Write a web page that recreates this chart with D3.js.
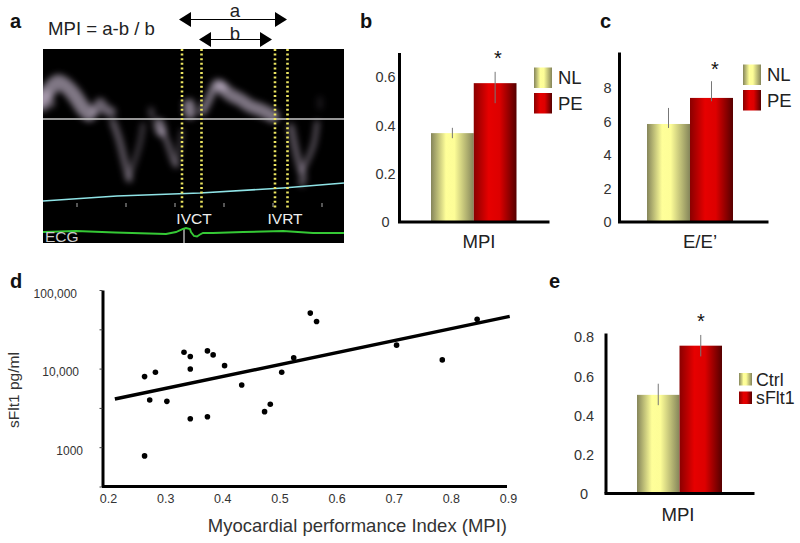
<!DOCTYPE html>
<html><head><meta charset="utf-8">
<script src="https://cdn.jsdelivr.net/npm/d3@7"></script>
<style>
html,body{margin:0;padding:0;background:#fff}
svg{display:block}
text{font-family:"Liberation Sans",Arial,sans-serif;fill:#222}
</style></head><body><svg id="c" width="800" height="543"></svg>
<script>
// ---- bar data
const bCategories = ["NL","PE"];
const bValues = [0.366,0.573];
const bErrLow = [0.345,0.49];
const bErrHigh = [0.388,0.62];
const bTicks = [0,0.2,0.4,0.6];

const cCategories = ["NL","PE"];
const cValues = [5.84,7.4];
const cErrLow = [5.6,7.2];
const cErrHigh = [6.8,8.4];
const cTicks = [0,2,4,6,8];

const eCategories = ["Ctrl","sFlt1"];
const eValues = [0.503,0.755];
const eErrLow = [0.45,0.70];
const eErrHigh = [0.56,0.81];
const eTicks = [0,0.2,0.4,0.6,0.8];

// ---- scatter data
const scatterMPI = [0.264,0.283,0.273,0.303,0.264,0.333,0.344,0.344,0.344,0.374,0.374,0.384,0.404,0.434,0.474,0.484,0.504,0.525,0.554,0.565,0.705,0.785,0.846];
const scatterSFlt1 = [7910,8980,3980,3830,774,16170,14230,9900,2300,16800,2440,14930,10900,6180,2830,3510,8980,13690,50800,39800,19860,12900,42300];
const trendMPI = [0.212,0.903];
const trendSFlt1 = [4100,46100];
const dXTicks = [0.2,0.3,0.4,0.5,0.6,0.7,0.8,0.9];
const dYLabelled = [100000,10000,1000];
const dYLabels = ["100,000","10,000","1000"];
const dYMarks = [100000,31600,10000,3160,1000,316];

// ---- doppler trace, [time, velocity]
const dopplerWaves = [
  {w:15,o:.6,p:[[-4,18],[7,30],[15,37],[24,32],[32,23],[40,11],[46,5]]},
  {w:10,o:.45,p:[[0,12],[3,24],[7,16]]},
  {w:10,o:.5,p:[[53,9],[57,16],[62,10],[68,7]]},
  {w:7,o:.42,p:[[70,-3],[76,-20],[82,-44],[86,-60]]},
  {w:5,o:.3,p:[[100,-6],[97,-24],[91,-44],[86,-58]]},
  {w:6,o:.3,p:[[108,9],[109,3]]},
  {w:11,o:.55,p:[[116,-5],[118,-12]]},
  {w:6,o:.42,p:[[119,-12],[125,-25],[130,-40],[133,-46]]},
  {w:4,o:.3,p:[[139,-12],[136,-30],[133,-44]]},
  {w:12,o:.6,p:[[146,14],[147,6]]},
  {w:8,o:.55,p:[[160,8],[166,20],[174,36],[180,32]]},
  {w:13,o:.58,p:[[178,32],[188,24],[198,19],[207,13],[218,9],[230,3]]},
  {w:7,o:.42,p:[[248,-8],[252,-28],[256,-44],[260,-58],[259,-64]]},
  {w:5,o:.42,p:[[274,-4],[271,-24],[265,-40],[259,-52]]},
  {w:5,o:.14,p:[[277,12],[277,20]]}
];
const dopplerCyan = [[0,-82],[74,-77],[157,-74],[240,-69],[301,-64]];
const dopplerEcg = [[0,-113],[33,-112],[72,-113.5],[123,-115],[133,-113],[140,-110],[143,-109],[147,-110],[148,-113],[151,-117],[154,-117.5],[157,-115.5],[160,-114],[170,-114],[200,-113],[240,-112],[270,-114],[301,-114]];
const dopplerMarkers = [139,158.5,232,244.5];
const dopplerBeats = [34,83,132,181,230,279];

const svg = d3.select("#c");
const defs = svg.append("defs");
function grad(id,stops){
  const g = defs.append("linearGradient").attr("id",id).attr("x1","0").attr("x2","1").attr("y1","0").attr("y2","0");
  stops.forEach(s=>g.append("stop").attr("offset",s[0]).attr("stop-color",s[1]));
}
grad("gNL",[[0,"#85855a"],[0.35,"#ffff99"],[0.55,"#fdfd97"],[1,"#85855a"]]);
grad("gPE",[[0,"#8a0000"],[0.35,"#e60000"],[0.6,"#dd0000"],[1,"#560000"]]);
defs.append("filter").attr("id","blur").attr("x","-40%").attr("y","-40%").attr("width","180%").attr("height","180%")
  .append("feGaussianBlur").attr("stdDeviation",3);

function label(t,x,y,size,opt={}){
  const e = svg.append("text").attr("x",x).attr("y",y).attr("font-size",size).text(t);
  if(opt.bold) e.attr("font-weight","bold").style("fill","#111");
  if(opt.anchor) e.attr("text-anchor",opt.anchor);
  if(opt.fill) e.style("fill",opt.fill);
  return e;
}
// panel labels
[["a",10,28],["b",360,28],["c",600,28],["d",10,288],["e",549,288]].forEach(d=>label(d[0],d[1],d[2],20,{bold:true}));

// ---- panel a
const tx = d3.scaleLinear().domain([0,301]).range([43,344]);
const vy = d3.scaleLinear().domain([70,-124]).range([49,243]);
svg.append("rect").attr("x",tx(0)).attr("y",vy(70)).attr("width",tx(301)-tx(0)).attr("height",vy(-124)-vy(70)).attr("fill","#000");
defs.append("clipPath").attr("id","panelA").append("rect").attr("x",tx(0)).attr("y",vy(70)).attr("width",tx(301)-tx(0)).attr("height",vy(-124)-vy(70));
const dl = d3.line().x(d=>tx(d[0])).y(d=>vy(d[1])).curve(d3.curveCatmullRom);
svg.append("g").attr("clip-path","url(#panelA)").append("g").attr("filter","url(#blur)").selectAll("path").data(dopplerWaves).join("path")
  .attr("d",d=>dl(d.p)).attr("fill","none").attr("stroke","#d6c6de").attr("stroke-linecap","round")
  .attr("stroke-width",d=>d.w).attr("stroke-opacity",d=>d.o);
svg.append("line").attr("x1",tx(0)).attr("x2",tx(301)).attr("y1",vy(0)).attr("y2",vy(0)).attr("stroke","#c9c9c9").attr("stroke-width",1.3);
svg.selectAll(".beat").data(dopplerBeats).join("line").attr("class","beat")
  .attr("x1",d=>tx(d)).attr("x2",d=>tx(d)).attr("y1",vy(-84)).attr("y2",vy(-88)).attr("stroke","#aaa").attr("stroke-width",1);
svg.append("path").attr("d",d3.line().x(d=>tx(d[0])).y(d=>vy(d[1]))(dopplerCyan)).attr("fill","none").attr("stroke","#8fe3e6").attr("stroke-width",1.7);
svg.selectAll(".mk").data(dopplerMarkers).join("line").attr("class","mk")
  .attr("x1",d=>tx(d)).attr("x2",d=>tx(d)).attr("y1",vy(70)).attr("y2",vy(-89))
  .attr("stroke","#ece560").attr("stroke-width",2.6).attr("stroke-dasharray","2 2.6");
svg.append("line").attr("x1",tx(141)).attr("x2",tx(141)).attr("y1",vy(-109)).attr("y2",vy(-124)).attr("stroke","#ddd").attr("stroke-width",1.2);
svg.append("path").attr("d",d3.line().x(d=>tx(d[0])).y(d=>vy(d[1]))(dopplerEcg)).attr("fill","none").attr("stroke","#35c935").attr("stroke-width",1.9);
label("IVCT",194,224,15.5,{anchor:"middle",fill:"#eee"});
label("IVRT",285,224,15.5,{anchor:"middle",fill:"#eee"});
label("ECG",45,242,15.5,{fill:"#ccc"});
label("MPI = a-b / b",48,35,18.6);
function dblArrow(x0,x1,y){
  svg.append("line").attr("x1",x0+10).attr("x2",x1-10).attr("y1",y).attr("y2",y).attr("stroke","#000").attr("stroke-width",1.2);
  svg.append("path").attr("d",`M${x0},${y}L${x0+12},${y-7.5}L${x0+12},${y+7.5}Z`).attr("fill","#000");
  svg.append("path").attr("d",`M${x1},${y}L${x1-12},${y-7.5}L${x1-12},${y+7.5}Z`).attr("fill","#000");
}
dblArrow(179,287,19.5);
dblArrow(199,272,39.5);
label("a",235,17,18.6,{anchor:"middle"});
label("b",235,40,18.6,{anchor:"middle"});

// ---- bars
function bars(o){
  const y = d3.scaleLinear().domain(o.domain).range([o.base,o.top]);
  const x = d3.scaleBand().domain(o.cats).range(o.barX);
  const g = svg.append("g");
  g.selectAll("rect").data(o.vals).join("rect")
    .attr("x",(d,i)=>x(o.cats[i])).attr("width",x.bandwidth())
    .attr("y",d=>y(d)).attr("height",d=>o.base-y(d))
    .attr("fill",(d,i)=>i?"url(#gPE)":"url(#gNL)");
  g.selectAll("line").data(o.vals).join("line")
    .attr("x1",(d,i)=>x(o.cats[i])+x.bandwidth()*0.5).attr("x2",(d,i)=>x(o.cats[i])+x.bandwidth()*0.5)
    .attr("y1",(d,i)=>y(o.lo[i])).attr("y2",(d,i)=>y(o.hi[i]))
    .attr("stroke","#777").attr("stroke-width",1);
  const ax = svg.append("g").attr("transform",`translate(${o.axisX},0)`)
    .call(d3.axisLeft(y).tickValues(o.ticks).tickSize(0).tickFormat(d=>d===0?"0":o.fmt(d)));
  ax.select(".domain").attr("stroke","#000").attr("stroke-width",3);
  ax.selectAll("text").attr("font-size",14.5).attr("x",o.labelX-o.axisX).attr("text-anchor","middle").attr("dy",".35em").style("fill","#333").style("font-family",'"Liberation Sans",Arial,sans-serif');
  const xa = svg.append("g").attr("transform",`translate(0,${o.base})`)
    .call(d3.axisBottom(d3.scaleLinear().domain([0,1]).range([o.axisX-1.5,o.axisEnd])).tickValues([]).tickSizeOuter(0));
  xa.select(".domain").attr("stroke","#000").attr("stroke-width",3);
  label(o.title,o.titleX,o.titleY,18.6,{anchor:"middle"});
  label("*",o.starX,o.starY,20,{anchor:"middle",fill:"#111"});
  const sw = d3.scaleBand().domain(o.cats).range(o.legY);
  svg.selectAll(null).data(o.cats).join("rect")
    .attr("x",o.legX).attr("y",d=>sw(d)+o.legGap/2).attr("width",o.legW).attr("height",sw.bandwidth()-o.legGap)
    .attr("fill",(d,i)=>i?"url(#gPE)":"url(#gNL)");
  o.cats.forEach(c=>label(c,o.legX+o.legW+o.legTx,sw(c)+sw.bandwidth()/2+o.legFont*0.36,o.legFont));
}
bars({cats:bCategories,vals:bValues,lo:bErrLow,hi:bErrHigh,ticks:bTicks,domain:[0,0.7],base:221.5,top:52.5,barX:[431,516.5],
  axisX:399,axisEnd:549,labelX:385.5,fmt:d3.format(".1f"),title:"MPI",titleX:479,titleY:248,starX:498,starY:65,
  legX:534,legW:18,legY:[65,116],legGap:5,legTx:6,legFont:18.5});
bars({cats:cCategories,vals:cValues,lo:cErrLow,hi:cErrHigh,ticks:cTicks,domain:[0,10.15],base:221.5,top:52,barX:[647,733],
  axisX:619,axisEnd:768,labelX:607.5,fmt:d3.format("d"),title:"E/E\u2019",titleX:700,titleY:248,starX:715,starY:76,
  legX:743,legW:18,legY:[62,113],legGap:5,legTx:6,legFont:18.5});
bars({cats:eCategories,vals:eValues,lo:eErrLow,hi:eErrHigh,ticks:eTicks,domain:[0,0.82],base:493,top:333,barX:[637,722],
  axisX:605.5,axisEnd:754,labelX:584,fmt:d3.format(".1f"),title:"MPI",titleX:678,titleY:521,starX:701,starY:328,
  legX:739,legW:13,legY:[370,407],legGap:6,legTx:4,legFont:17.8});

// ---- panel d
const dx = d3.scaleLinear().domain([0.2,0.9]).range([108,508]);
const dy = d3.scaleLog().domain([316,100000]).range([486.5,290]);
const ya = svg.append("g").attr("transform","translate(102.5,0)")
  .call(d3.axisLeft(dy).tickValues(dYMarks).tickSize(3).tickSizeOuter(0).tickFormat(""));
ya.select(".domain").attr("stroke","#000").attr("stroke-width",3);
ya.selectAll(".tick line").attr("stroke","#444");
const xa = svg.append("g").attr("transform","translate(0,486)")
  .call(d3.axisBottom(dx).tickValues(dXTicks).tickSize(0).tickFormat(d3.format(".1f")));
xa.select(".domain").attr("stroke","#000").attr("stroke-width",3).attr("d","M102,0.5H507");
xa.selectAll("text").attr("y",8.5).attr("dy",".71em").attr("font-size",12.5).style("fill","#333").style("font-family",'"Liberation Sans",Arial,sans-serif');
dYLabelled.forEach((v,i)=>label(dYLabels[i],[77,79,83][i],dy(v)+7.5,12,{anchor:"end",fill:"#333"}));
svg.append("path").datum(trendMPI.map((m,i)=>[m,trendSFlt1[i]]))
  .attr("d",d3.line().x(d=>dx(d[0])).y(d=>dy(d[1]))).attr("stroke","#000").attr("stroke-width",3.4).attr("fill","none");
svg.append("g").selectAll("circle").data(scatterMPI).join("circle")
  .attr("cx",d=>dx(d)).attr("cy",(d,i)=>dy(scatterSFlt1[i])).attr("r",2.8).attr("fill","#000");
label("Myocardial performance Index (MPI)",507,532,18.5,{anchor:"end",fill:"#333"});
svg.append("text").attr("transform","translate(19,390) rotate(-90)").attr("text-anchor","middle").attr("font-size",15.5).style("fill","#333").text("sFlt1 pg/ml");
</script></body></html>
